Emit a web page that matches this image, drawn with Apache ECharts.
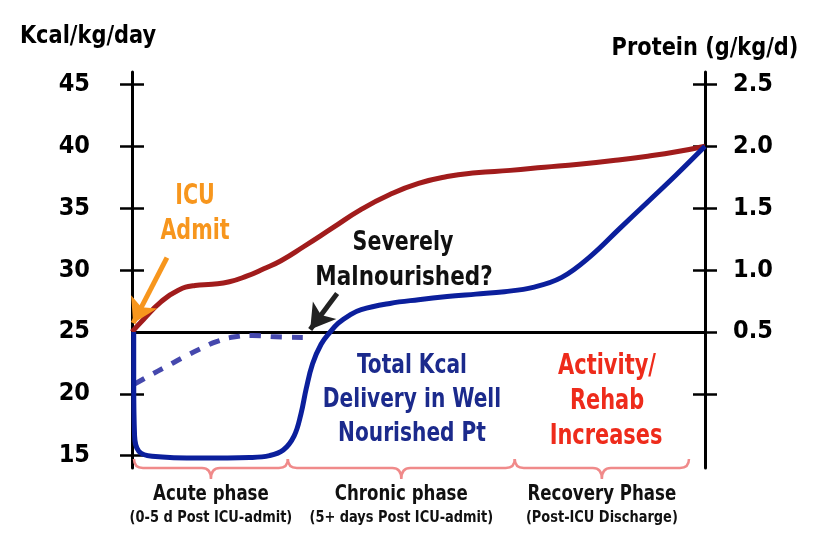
<!DOCTYPE html>
<html><head><meta charset="utf-8">
<script src="https://cdn.jsdelivr.net/npm/echarts@6/dist/echarts.min.js"></script>
<style>html,body{margin:0;padding:0;background:#fff}#c{width:817px;height:545px}</style>
</head><body><div id="c"></div>
<script>
// ---- data ----
const kcalTicks = [15, 20, 30, 35, 40, 45];
const kcalLabels = [15, 20, 25, 30, 35, 40, 45];
const proteinTicks = [0, 0.5, 1.0, 1.5, 2.0, 2.5];
const proteinLabels = [0.5, 1.0, 1.5, 2.0, 2.5];
const targetKcal = [[0,25],[2,26.0],[5,27.4],[8,28.35],[11,28.75],[14,28.85],[17,29.05],[20,29.5],[23,30.1],[26,30.75],[30,31.9],[35,33.4],[40,34.9],[45,36.1],[50,37.0],[55,37.55],[60,37.85],[66,38.05],[72,38.3],[78,38.55],[84,38.85],[90,39.2],[95,39.55],[100,40]];
const wellNourished = [[0.3,25],[0.3,21],[0.45,16.6],[1.2,15.35],[3.5,14.95],[12,14.8],[20.5,14.85],[24,15.0],[26.4,15.45],[28.3,16.6],[29.5,18.4],[30.4,20.4],[31.5,22.4],[33,24.0],[34.6,25.0],[36,25.7],[37.8,26.3],[40,26.8],[45,27.3],[50,27.6],[55,27.85],[60,28.05],[65,28.25],[70,28.6],[75,29.4],[80,31.1],[85,33.3],[90,35.5],[95,37.7],[100,40]];
const malnourished = [[0.5,20.8],[3,21.45],[6,22.2],[9,22.95],[12,23.65],[15,24.25],[18,24.6],[21,24.7],[25,24.6],[31,24.55]];
const phaseNames = ['Acute phase', 'Chronic phase', 'Recovery Phase'];
const phaseNotes = ['(0-5 d Post ICU-admit)', '(5+ days Post ICU-admit)', '(Post-ICU Discharge)'];
const phaseStart = [0.35, 27.2, 66.8];
const phaseEnd = [27.2, 66.8, 97.2];
const baselineKcal = 25;
const icuArrow = [[6.1, 31.0], [0.2, 25.7]];
const malArrow = [[35.8, 28.1], [31.1, 25.2]];

const FF = "'DejaVu Sans Condensed','Liberation Sans Narrow','DejaVu Sans',sans-serif";
const chart = echarts.init(document.getElementById('c'));

function yAx(pos, inside, labels) {
  const right = pos === 'right';
  return {
    type: 'value', position: pos, min: 14, max: 46,
    splitLine: {show: false},
    axisLine: {show: !inside, lineStyle: {color: '#000', width: 3}},
    axisTick: {show: true, inside: inside, length: 12, lineStyle: {color: '#000', width: 2.5},
      customValues: right ? proteinTicks.map(p => p * 10 + 20) : kcalTicks},
    axisLabel: {show: labels, margin: right ? 28 : 42, fontFamily: FF, fontWeight: 'bold', fontSize: 25, color: '#000',
      customValues: right ? proteinLabels.map(p => p * 10 + 20) : kcalLabels,
      formatter: v => right ? ((v - 20) / 10).toFixed(1) : String(v)}
  };
}

function txt(text, x, y, color, size, sx) {
  return {type: 'text', x: x, y: y, scaleX: sx, silent: true,
    style: {text: text, x: 0, y: 0, fill: color, font: 'bold ' + size + 'px ' + FF, textAlign: 'center', textVerticalAlign: 'middle'}};
}

const option = {
  animation: false,
  backgroundColor: '#fff',
  grid: {left: 132, right: 112, top: 72, bottom: 77},
  xAxis: {type: 'value', min: 0, max: 100, show: false},
  yAxis: [yAx('left', false, true), yAx('left', true, false), yAx('right', false, true), yAx('right', true, false)],
  graphic: [
    txt('Kcal/kg/day', 88, 37, '#000', 24, 0.97),
    txt('Protein (g/kg/d)', 705, 48, '#000', 25, 0.93),
    txt('ICU', 195, 197, '#f7961d', 28, 0.82),
    txt('Admit', 195, 232, '#f7961d', 28, 0.82),
    txt('Severely', 403, 243, '#111', 26, 0.88),
    txt('Malnourished?', 404, 278, '#111', 26, 0.92),
    txt('Total Kcal', 412, 366, '#1b2a8c', 27, 0.83),
    txt('Delivery in Well', 412, 400, '#1b2a8c', 27, 0.83),
    txt('Nourished Pt', 412, 434, '#1b2a8c', 27, 0.83),
    txt('Activity/', 607, 367, '#ee2b1b', 28, 0.83),
    txt('Rehab', 607, 402, '#ee2b1b', 28, 0.83),
    txt('Increases', 606, 437, '#ee2b1b', 28, 0.83)
  ],
  series: [
    {
      type: 'line', data: malnourished, smooth: 0.5, showSymbol: false, clip: false, z: 2,
      lineStyle: {color: '#4548ad', width: 5, type: [11, 10], cap: 'butt'}
    },
    {
      type: 'line', data: targetKcal, smooth: 0.5, showSymbol: false, clip: false, z: 3,
      lineStyle: {color: '#a11c1c', width: 5},
      markLine: {silent: true, symbol: ['none', 'none'], label: {show: false}, z: 1,
        data: [{yAxis: baselineKcal, lineStyle: {color: '#000', width: 3, type: 'solid'}}]}
    },
    {
      type: 'line', data: wellNourished, smooth: 0.4, showSymbol: false, clip: false, z: 4,
      lineStyle: {color: '#0b1f9c', width: 5}
    },
    {
      type: 'line', data: [], z: 5,
      markLine: {silent: true, symbol: ['none', 'arrow'], symbolSize: [22, 24], label: {show: false},
        data: [
          [{coord: icuArrow[0], lineStyle: {color: '#f7961d', width: 5, type: 'solid'}, itemStyle: {color: '#f7961d'}}, {coord: icuArrow[1]}],
          [{coord: malArrow[0], lineStyle: {color: '#222', width: 5, type: 'solid'}, itemStyle: {color: '#222'}}, {coord: malArrow[1]}]
        ]}
    },
    {
      type: 'custom', clip: false, z: 6,
      data: phaseNames.map((n, i) => [phaseStart[i], phaseEnd[i], i]),
      renderItem: function (params, api) {
        const i = api.value(2);
        const p0 = api.coord([api.value(0), 14]);
        const p1 = api.coord([api.value(1), 14]);
        const x0 = p0[0], x1 = p1[0], xm = (x0 + x1) / 2, yl = p0[1];
        const r = 9, yEnd = yl - 9, yTip = yl + 11;
        const d = 'M' + x0 + ',' + yEnd + ' Q' + x0 + ',' + yl + ' ' + (x0 + r) + ',' + yl +
          ' L' + (xm - r) + ',' + yl + ' Q' + xm + ',' + yl + ' ' + xm + ',' + yTip +
          ' Q' + xm + ',' + yl + ' ' + (xm + r) + ',' + yl +
          ' L' + (x1 - r) + ',' + yl + ' Q' + x1 + ',' + yl + ' ' + x1 + ',' + yEnd;
        return {type: 'group', children: [
          {type: 'path', shape: {pathData: d}, style: {fill: 'none', stroke: '#f08a8a', lineWidth: 2.5}},
          {type: 'text', x: xm, y: yl + 27, scaleX: 0.88, style: {text: phaseNames[i], x: 0, y: 0, fill: '#111', font: 'bold 21px ' + FF, textAlign: 'center', textVerticalAlign: 'middle'}},
          {type: 'text', x: xm, y: yl + 50, scaleX: 0.9, style: {text: phaseNotes[i], x: 0, y: 0, fill: '#111', font: 'bold 16px ' + FF, textAlign: 'center', textVerticalAlign: 'middle'}}
        ]};
      }
    }
  ]
};
chart.setOption(option);
</script></body></html>
